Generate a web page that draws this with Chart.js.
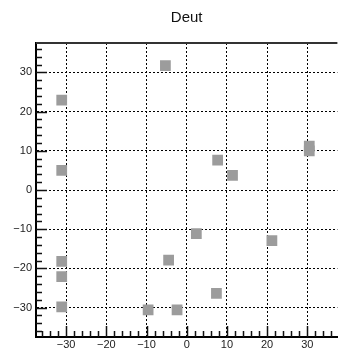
<!DOCTYPE html>
<html>
<head>
<meta charset="utf-8">
<script src="https://cdn.jsdelivr.net/npm/chart.js@4/dist/chart.umd.min.js"></script>
<style>
  html, body { margin: 0; padding: 0; background: #fff; overflow: hidden; }
  #wrap { width: 345px; height: 349px; }
</style>
</head>
<body>
<div id="wrap"><canvas id="deutChart" width="345" height="349"></canvas></div>
<script>
// Deut - 점 데이터
const deutX = [-5.3, -31.1, -31.1, 7.7, 11.4, 30.5, 30.5, 2.4, 21.2, -31.1, -31.1, -31.1, -4.5, -9.6, -2.4, 7.4];
const deutY = [31.7, 22.9, 5.0, 7.6, 3.7, 11.2, 10.0, -11.1, -12.9, -18.2, -22.1, -29.8, -17.9, -30.6, -30.6, -26.4];

// 축 눈금
const xTickValues = [-30, -20, -10, 0, 10, 20, 30];
const yTickValues = [-30, -20, -10, 0, 10, 20, 30];
const axisMin = -37.5;
const axisMax = 37.5;

const points = deutX.map((x, i) => ({ x: x, y: deutY[i] }));

const fontFamily = "'Liberation Sans', Arial, Helvetica, sans-serif";
const minus = v => (v < 0 ? '\u2212' + Math.abs(v) : String(v));

// 안쪽으로 향하는 주/보조 눈금 + 위쪽 테두리
const innerTicks = {
    id: 'innerTicks',
    afterDraw(chart) {
        const { ctx, chartArea, scales } = chart;
        ctx.save();
        ctx.strokeStyle = '#111';
        ctx.lineWidth = 1.5;
        ctx.beginPath();
        for (let v = -36; v <= 36; v += 2) {
            const len = v % 10 === 0 ? 11 : 6;
            const py = Math.round(scales.y.getPixelForValue(v)) + 0.5;
            ctx.moveTo(chartArea.left, py);
            ctx.lineTo(chartArea.left + len, py);
            const px = Math.round(scales.x.getPixelForValue(v)) + 0.5;
            ctx.moveTo(px, chartArea.bottom);
            ctx.lineTo(px, chartArea.bottom - len);
        }
        ctx.stroke();
        // 위쪽 테두리
        ctx.strokeStyle = '#333';
        ctx.lineWidth = 2;
        ctx.beginPath();
        ctx.moveTo(chartArea.left, chartArea.top);
        ctx.lineTo(chartArea.right, chartArea.top);
        ctx.stroke();
        ctx.restore();
    }
};

const gridOpts = { color: '#000', lineWidth: 1, drawTicks: false };
const borderOpts = { display: true, color: '#000', width: 2, dash: [2, 2] };

new Chart(document.getElementById('deutChart').getContext('2d'), {
    type: 'scatter',
    data: {
        datasets: [{
            label: 'Deut',
            data: points,
            pointStyle: 'rect',
            pointRadius: 7.6,
            pointBackgroundColor: '#9c9c9c',
            pointBorderWidth: 0,
            pointHoverRadius: 7.6
        }]
    },
    options: {
        responsive: false,
        animation: false,
        layout: { padding: { left: 0, right: 0, top: 0, bottom: 0 } },
        plugins: {
            legend: { display: false },
            tooltip: { enabled: false },
            title: {
                display: true,
                text: 'Deut',
                fullSize: false,
                color: '#111',
                font: { family: fontFamily, size: 15, weight: 'normal' },
                padding: { top: 9, bottom: 16 }
            }
        },
        scales: {
            x: {
                type: 'linear',
                min: axisMin,
                max: axisMax,
                afterBuildTicks: s => { s.ticks = xTickValues.map(v => ({ value: v })); },
                afterFit: s => { s.height = 12; },
                grid: gridOpts,
                border: borderOpts,
                ticks: {
                    padding: 1,
                    color: '#222',
                    maxRotation: 0,
                    font: { family: fontFamily, size: 11 },
                    callback: v => minus(v)
                }
            },
            y: {
                type: 'linear',
                min: axisMin,
                max: axisMax,
                afterBuildTicks: s => { s.ticks = yTickValues.map(v => ({ value: v })); },
                afterFit: s => { s.width = 36; },
                grid: gridOpts,
                border: borderOpts,
                ticks: {
                    padding: 4,
                    color: '#222',
                    font: { family: fontFamily, size: 11 },
                    callback: v => minus(v)
                }
            }
        }
    },
    plugins: [innerTicks]
});
</script>
</body>
</html>
